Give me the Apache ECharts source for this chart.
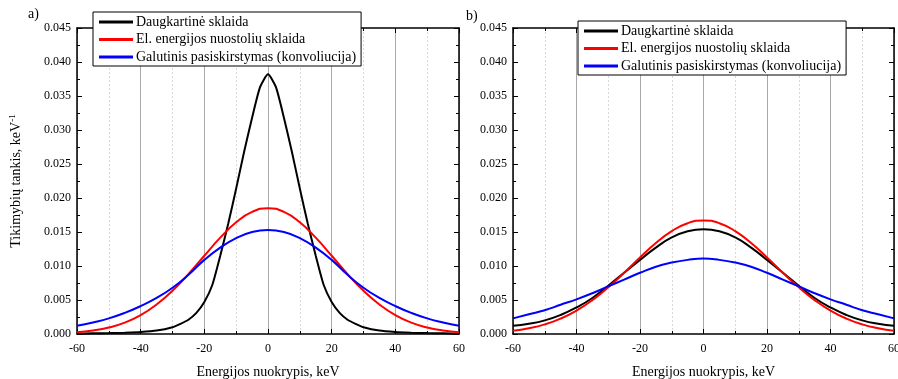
<!DOCTYPE html>
<html><head><meta charset="utf-8">
<script src="https://cdn.jsdelivr.net/npm/echarts@6/dist/echarts.min.js"></script>
<style>html,body{margin:0;padding:0;background:#fff}#c{width:898px;height:379px}</style>
</head><body><div id="c"></div>
<script>
const seriesNames = ['Daugkartinė sklaida', 'El. energijos nuostolių sklaida', 'Galutinis pasiskirstymas (konvoliucija)'];
const panelLabels = ['a)', 'b)'];
const xAxisTitle = 'Energijos nuokrypis, keV';
const yTicks = [0, 0.005, 0.01, 0.015, 0.02, 0.025, 0.03, 0.035, 0.04, 0.045];

// Panel a) — black curve (sampled finer near the peak)
const xA_black = [-60,-55,-50,-45,-40,-35,-30,-27.5,-25,-22.5,-20,-17.5,-15,-12.5,-10,-7.5,-5,-2.5,0,2.5,5,7.5,10,12.5,15,17.5,20,22.5,25,27.5,30,35,40,45,50,55,60];
const yA_black = [0.00005,0.0001,0.00013,0.0002,0.0003,0.0005,0.001,0.0015,0.0021,0.0031,0.0047,0.0072,0.0115,0.0162,0.0214,0.0268,0.0318,0.0363,0.0382,0.0363,0.0318,0.0268,0.0214,0.0162,0.0115,0.0072,0.0047,0.0031,0.0021,0.0015,0.001,0.0005,0.0003,0.0002,0.00013,0.0001,0.00005];

// 5 keV grid for the smooth curves
const x5 = [-60,-55,-50,-45,-40,-35,-30,-25,-20,-15,-10,-5,0,5,10,15,20,25,30,35,40,45,50,55,60];
const yA_red  = [0.00026,0.00051,0.00095,0.00167,0.00277,0.00433,0.00636,0.00881,0.01151,0.01417,0.01643,0.01796,0.0185,0.01796,0.01643,0.01417,0.01151,0.00881,0.00636,0.00433,0.00277,0.00167,0.00095,0.00051,0.00026];
const yA_blue = [0.0012,0.0017,0.0023,0.0031,0.0041,0.0053,0.0068,0.0087,0.0109,0.0127,0.0141,0.0150,0.0153,0.0150,0.0141,0.0127,0.0109,0.0087,0.0068,0.0053,0.0041,0.0031,0.0023,0.0017,0.0012];

const yB_black = [0.0012,0.0015,0.002,0.0028,0.0039,0.0053,0.0071,0.0090,0.0109,0.0127,0.0142,0.0151,0.0154,0.0151,0.0142,0.0127,0.0109,0.0090,0.0071,0.0053,0.0039,0.0028,0.002,0.0015,0.0012];
const yB_red   = [0.00048,0.00084,0.00141,0.00226,0.00344,0.00498,0.00686,0.009,0.01125,0.01337,0.01513,0.01629,0.0167,0.01629,0.01513,0.01337,0.01125,0.009,0.00686,0.00498,0.00344,0.00226,0.00141,0.00084,0.00048];
const yB_blue  = [0.0023,0.0029,0.0035,0.0043,0.0051,0.0060,0.0070,0.0080,0.0090,0.0099,0.0105,0.0109,0.0111,0.0109,0.0105,0.0099,0.0090,0.0080,0.0070,0.0060,0.0051,0.0043,0.0035,0.0029,0.0023];

const colors = ['#000000', '#ff0000', '#0000ff'];
const FONT = 'Liberation Serif';

function pairs(xs, ys) { return xs.map((x, i) => [x, ys[i]]); }

const grids = [
  { left: 77, top: 28, width: 382, height: 306, outerBoundsMode: 'none', containLabel: false },
  { left: 513, top: 28, width: 381, height: 306, outerBoundsMode: 'none', containLabel: false }
];

const xAxes = [], yAxes = [];
grids.forEach((g, gi) => {
  xAxes.push({
    type: 'value', gridIndex: gi, position: 'bottom', min: -60, max: 60, interval: 20,
    name: xAxisTitle, nameLocation: 'middle', nameGap: 31,
    nameTextStyle: { fontFamily: FONT, fontSize: 14, color: '#000' },
    axisLine: { show: true, onZero: false, lineStyle: { color: '#000', width: 1.5 } },
    axisTick: { show: true, inside: true, length: 5, lineStyle: { color: '#000' } },
    minorTick: { show: true, splitNumber: 2, length: 3, lineStyle: { color: '#000' } },
    axisLabel: { fontFamily: FONT, fontSize: 12, color: '#000', margin: 9, formatter: v => String(v) },
    splitLine: { show: true, lineStyle: { color: '#a8a8a8', width: 1 } },
    minorSplitLine: { show: true, lineStyle: { color: '#d8d8d8', width: 1, type: [2, 2] } }
  });
  xAxes.push({
    type: 'value', gridIndex: gi, position: 'top', min: -60, max: 60, interval: 20,
    axisLine: { show: true, onZero: false, lineStyle: { color: '#000', width: 1.5 } },
    axisTick: { show: true, inside: true, length: 5, lineStyle: { color: '#000' } },
    minorTick: { show: true, splitNumber: 2, length: 3, lineStyle: { color: '#000' } },
    axisLabel: { show: false }, splitLine: { show: false }
  });
  yAxes.push({
    type: 'value', gridIndex: gi, position: 'left', min: 0, max: 0.045, interval: 0.005,
    name: gi === 0 ? 'Tikimybių tankis, keV{sup|-1}' : '', nameLocation: 'middle', nameGap: 52, nameRotate: 90,
    nameTextStyle: { fontFamily: FONT, fontSize: 14, color: '#000',
      rich: { sup: { fontFamily: FONT, fontSize: 9, color: '#000', verticalAlign: 'top', padding: [0, 0, 8, 0] } } },
    axisLine: { show: true, onZero: false, lineStyle: { color: '#000', width: 1.5 } },
    axisTick: { show: true, inside: true, length: 5, lineStyle: { color: '#000' } },
    minorTick: { show: true, splitNumber: 2, length: 3, lineStyle: { color: '#000' } },
    axisLabel: { fontFamily: FONT, fontSize: 12, color: '#000', margin: 6, formatter: v => v.toFixed(3) },
    splitLine: { show: false }
  });
  yAxes.push({
    type: 'value', gridIndex: gi, position: 'right', min: 0, max: 0.045, interval: 0.005,
    axisLine: { show: true, onZero: false, lineStyle: { color: '#000', width: 1.5 } },
    axisTick: { show: true, inside: true, length: 5, lineStyle: { color: '#000' } },
    minorTick: { show: true, splitNumber: 2, length: 3, lineStyle: { color: '#000' } },
    axisLabel: { show: false }, splitLine: { show: false }
  });
});

function line(name, data, color, xi, yi, smooth) {
  return { name, type: 'line', data, xAxisIndex: xi, yAxisIndex: yi, showSymbol: false, symbol: 'none',
    smooth, lineStyle: { color, width: 2 }, itemStyle: { color }, animation: false, z: 3 };
}

const series = [
  line(seriesNames[0], pairs(xA_black, yA_black), colors[0], 0, 0, 0.2),
  line(seriesNames[1], pairs(x5, yA_red), colors[1], 0, 0, true),
  line(seriesNames[2], pairs(x5, yA_blue), colors[2], 0, 0, true),
  line(seriesNames[0], pairs(x5, yB_black), colors[0], 2, 2, true),
  line(seriesNames[1], pairs(x5, yB_red), colors[1], 2, 2, true),
  line(seriesNames[2], pairs(x5, yB_blue), colors[2], 2, 2, true)
];

function legend(left, top) {
  return {
    data: seriesNames, orient: 'vertical', left, top, icon: 'rect', itemWidth: 34, itemHeight: 3,
    itemGap: 1.5, padding: [2, 5, 1, 6], borderColor: '#000', borderWidth: 1, backgroundColor: '#fff',
    selectedMode: false,
    textStyle: { fontFamily: FONT, fontSize: 14, color: '#000', lineHeight: 16, padding: [0, 0, 0, -2] }
  };
}

const chart = echarts.init(document.getElementById('c'), null, { renderer: 'canvas' });
chart.setOption({
  animation: false,
  backgroundColor: '#fff',
  grid: grids,
  xAxis: xAxes,
  yAxis: yAxes,
  legend: [legend(93, 12), legend(578, 21)],
  series,
  graphic: [
    { type: 'text', left: 28, top: 7, style: { text: panelLabels[0], fontFamily: FONT, fontSize: 14, fill: '#000' } },
    { type: 'text', left: 466, top: 9, style: { text: panelLabels[1], fontFamily: FONT, fontSize: 14, fill: '#000' } }
  ]
});
</script></body></html>
